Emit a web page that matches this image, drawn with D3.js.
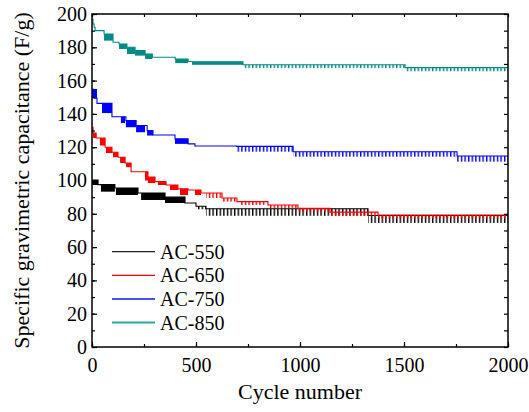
<!DOCTYPE html>
<html><head><meta charset="utf-8">
<script src="https://cdn.jsdelivr.net/npm/d3@7"></script>
<style>body{margin:0;background:#fff}svg{display:block}</style>
</head><body><svg id="c" width="529" height="412"></svg>
<script>
// ---- data (cycle number, capacitance F/g) ----
const seriesNames = ["AC-550","AC-650","AC-750","AC-850"];
const xTicks = [0,500,1000,1500,2000];
const yTicks = [0,20,40,60,80,100,120,140,160,180,200];

// upper envelope of each curve (step after)
const ac550Top = [[0,100.3],[29,97.5],[110,95.5],[221,92.5],[351,90],[447,86.5],[500,84.5],[548,83],[1327,79],[2000,79]];
const ac650Top = [[0,132],[5,128.5],[20,125.5],[63,120],[96,117],[125,114],[159,110.5],[188,105.3],[269,102],[303,99.3],[356,97.3],[413,95],[462,94.3],[524,92.5],[625,89.5],[697,87.3],[846,85.3],[990,83.3],[1144,81],[1375,79.3],[2000,79.3]];
const ac750Top = [[0,155],[4,153],[8,151],[12,149.5],[24,146.3],[96,138.3],[163,136],[212,133],[265,130],[293,127.3],[399,125],[462,122],[495,120.7],[696,120.5],[967,117.3],[1755,114.7],[2000,114.7]];
const ac850Top = [[0,197],[5,194],[10,192],[15,190],[58,188],[101,183],[130,182],[168,180],[207,178],[255,176],[290,174],[400,173],[462,171.5],[481,171.3],[726,169.5],[1505,167.8],[2000,167.8]];

// oscillation bands [cycle start, cycle end, low, high]
const ac550Bands = [[0,29,97.3,100.3],[43,110,93.3,97.3],[115,221,91.3,95.5],[236,351,88.3,92.5],[351,447,86.5,90],[500,548,82.7,84.5],[548,1327,78.8,83],[1327,2000,74.5,79]];
const ac650Bands = [[5,20,125.5,128.5],[38,63,121,125.5],[67,96,116.5,120],[101,125,114,117],[135,159,110.5,114],[164,188,108,110.5],[255,269,100,105.3],[269,303,98.5,102],[317,356,97.3,99.3],[375,413,94.3,97.3],[423,462,91.3,95],[495,524,91.3,94.3],[548,625,89.5,92.5],[625,697,87.3,89.5],[712,832,85.3,87.3],[846,986,83.5,85.3],[990,1144,81.3,83.3],[1144,1375,78.7,81],[1375,2000,77.3,79.3]];
const ac750Bands = [[0,24,149.5,155],[48,96,140.5,146.3],[139,159,134.5,138.3],[163,212,132,136],[212,255,129,133],[265,293,127,130],[399,462,122,125],[696,967,117.3,120.5],[967,1755,114.3,117.3],[1755,2000,111.3,114.7]];
const ac850Bands = [[58,101,184,188],[130,168,179,182],[168,207,176,180],[207,255,175,178],[255,290,173,176],[400,462,170.5,173],[481,726,169.5,171.3],[726,1505,167.5,169.5],[1505,2000,165.6,167.8]];

const colors = ["#000000","#ff0000","#0000ff","#008b84"];
const legendColors = ["#222222","#ff0000","#4a4aff","#2aa8a0"];
const tops = [ac550Top, ac650Top, ac750Top, ac850Top];
const bands = [ac550Bands, ac650Bands, ac750Bands, ac850Bands];

// ---- chart ----
const svg = d3.select("#c");
const L=92,R=508,T=14,B=347;
const x = d3.scaleLinear().domain([0,2000]).range([L,R]);
const y = d3.scaleLinear().domain([0,200]).range([B,T]);
const font = "'Liberation Serif','Times New Roman',serif";

const defs = svg.append("defs");
colors.forEach((c,i)=>{
  const p = defs.append("pattern").attr("id","pat"+i).attr("patternUnits","userSpaceOnUse")
    .attr("width",3.6).attr("height",20);
  p.append("rect").attr("x",0).attr("y",0).attr("width",1.4).attr("height",20).attr("fill",c);
});
defs.append("clipPath").attr("id","clip").append("rect").attr("x",L).attr("y",T).attr("width",R-L).attr("height",B-T);

const plot = svg.append("g").attr("clip-path","url(#clip)");
const line = d3.line().x(d=>x(d[0])).y(d=>y(d[1])).curve(d3.curveStepAfter);

// draw order: teal, blue, black, red (red on top of black)
[3,2,0,1].forEach(i=>{
  const g = plot.append("g");
  g.selectAll("rect").data(bands[i]).join("rect")
    .attr("x",d=>x(d[0])).attr("width",d=>x(d[1])-x(d[0]))
    .attr("y",d=>y(d[3])).attr("height",d=>y(d[2])-y(d[3]))
    .attr("fill",d=> d[0]<500 ? colors[i] : "url(#pat"+i+")");
  g.append("path").datum(tops[i]).attr("d",line).attr("fill","none")
    .attr("stroke",colors[i]).attr("stroke-width",1.1);
});

// axes
function styleAxis(g){ g.select(".domain").remove(); g.selectAll("line").attr("stroke","#000").attr("stroke-width",1.2);
  g.selectAll("text").attr("font-family",font).attr("font-size",20).attr("fill","#000"); }
const minorX = d3.range(0,2001,250), minorY = d3.range(0,201,10);
svg.append("g").attr("transform",`translate(0,${B})`).call(d3.axisBottom(x).tickValues(xTicks).tickSize(-5).tickPadding(11).tickFormat(d3.format("d"))).call(styleAxis);
svg.append("g").attr("transform",`translate(0,${B})`).call(d3.axisBottom(x).tickValues(minorX).tickSize(-3).tickFormat("")).call(styleAxis);
svg.append("g").attr("transform",`translate(0,${T})`).call(d3.axisTop(x).tickValues(minorX).tickSize(-3).tickFormat("")).call(styleAxis);
svg.append("g").attr("transform",`translate(${L},0)`).call(d3.axisLeft(y).tickValues(yTicks).tickSize(-5).tickPadding(5)).call(styleAxis);
svg.append("g").attr("transform",`translate(${L},0)`).call(d3.axisLeft(y).tickValues(minorY).tickSize(-3).tickFormat("")).call(styleAxis);
svg.append("g").attr("transform",`translate(${R},0)`).call(d3.axisRight(y).tickValues(minorY).tickSize(-4).tickFormat("")).call(styleAxis);
svg.append("rect").attr("x",L).attr("y",T).attr("width",R-L).attr("height",B-T)
  .attr("fill","none").attr("stroke","#000").attr("stroke-width",1.5);

// titles
svg.append("text").attr("x",(L+R)/2).attr("y",399).attr("text-anchor","middle")
  .attr("font-family",font).attr("font-size",22).text("Cycle number");
svg.append("text").attr("transform",`translate(29,${(T+B)/2}) rotate(-90)`).attr("text-anchor","middle")
  .attr("font-family",font).attr("font-size",22).text("Specific gravimetric capacitance (F/g)");

// legend
const lg = svg.append("g");
seriesNames.forEach((n,i)=>{
  const ly = 251.7 + i*23.6;
  lg.append("line").attr("x1",112).attr("x2",155).attr("y1",ly).attr("y2",ly)
    .attr("stroke",legendColors[i]).attr("stroke-width",i>=2?2:1.3);
  lg.append("text").attr("x",160).attr("y",ly+7).attr("font-family",font).attr("font-size",20).text(n);
});
</script></body></html>
